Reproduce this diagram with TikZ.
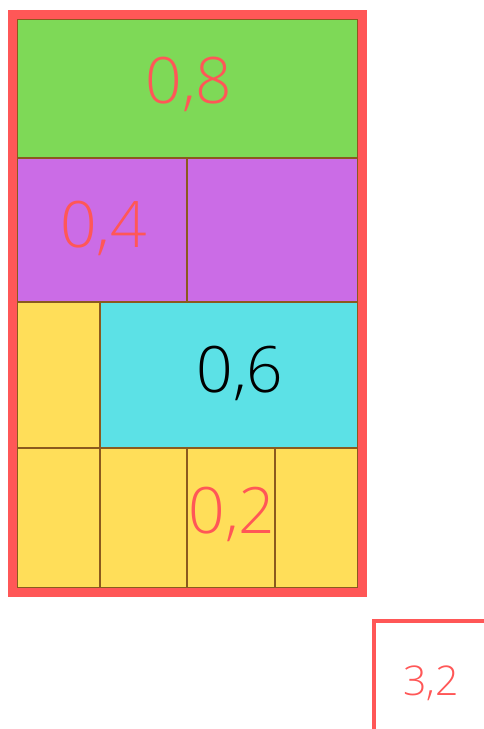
\documentclass[tikz,border=0pt]{standalone}
\usepackage{fontspec}
\newfontfamily\thinfont{Open Sans Light}
\usetikzlibrary{positioning}
\definecolor{ntred}{HTML}{FF5757}
\definecolor{ntgreen}{HTML}{7ED957}
\definecolor{ntpurple}{HTML}{CB6CE6}
\definecolor{ntcyan}{HTML}{5CE1E6}
\definecolor{ntyellow}{HTML}{FFDE59}
\definecolor{ntbrown}{HTML}{8B5A1E}

\begin{document}
\begin{tikzpicture}[x=1pt, y=-1pt,
  cell/.style={draw=ntbrown, line width=1.6pt},
  num/.style={font=\thinfont\fontsize{64}{64}\selectfont, text=ntred, inner sep=0pt, anchor=base},
]
  \useasboundingbox (0,0) rectangle (484,729);
  % cells, row by row
  \draw[cell, fill=ntgreen] (17,19) rectangle (358,158);
  \draw[cell, fill=ntpurple] (17,158) rectangle (187,302);
  \draw[cell, fill=ntpurple] (187,158) rectangle (358,302);
  \draw[cell, fill=ntyellow] (17,302) rectangle (100,448);
  \draw[cell, fill=ntcyan] (100,302) rectangle (358,448);
  \foreach \xa/\xb in {17/100, 100/187, 187/275, 275/358}
    \draw[cell, fill=ntyellow] (\xa,448) rectangle (\xb,588);
  % frame
  \draw[ntred, line width=9pt] (12.5,14.5) rectangle (362.5,592.5);
  \node[num] (eight) at (189,103) {0,8};
  \node[num] (four) at (103.5,247) {0,4};
  \node[num, text=black] (six) at (240,392) {0,6};
  \node[num] (two) at (232,533) {0,2};
  % total
  \draw[ntred, line width=4pt] (492,621) -| (373.8,737);
  \node[num, font=\thinfont\fontsize{41}{41}\selectfont] (total) at (431,695) {3,2};
\end{tikzpicture}
\end{document}
